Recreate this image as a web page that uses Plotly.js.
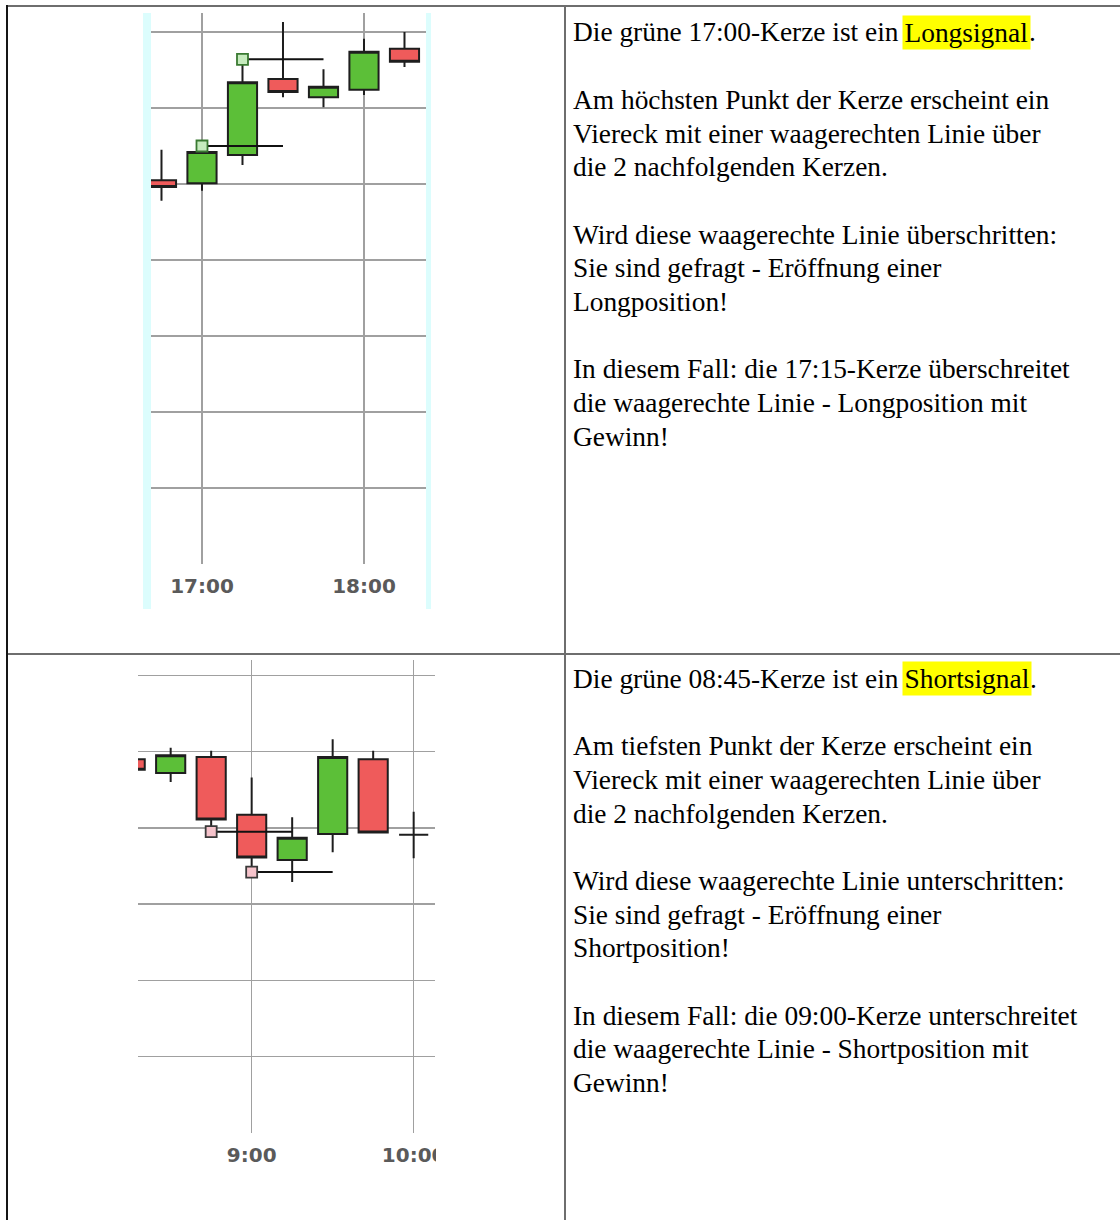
<!DOCTYPE html>
<html>
<head>
<meta charset="utf-8">
<script src="https://cdn.plot.ly/plotly-3.0.1.min.js"></script>
<style>
html,body{margin:0;padding:0;background:#fff;}
#chart{width:1120px;height:1220px;}
</style>
</head>
<body>
<div id="chart"></div>
<script>
// ---------- data ----------
const day = '2024-03-04 ';

// top chart (long signal)
const topTimes = ['16:45','17:00','17:15','17:30','17:45','18:00','18:15'];
const topOpen  = [50.5, 50.1, 53.8, 63.8, 61.4, 62.4, 67.8];
const topHigh  = [54.5, 55.0, 66.4, 71.3, 65.1, 69.1, 70.0];
const topLow   = [47.8, 49.1, 52.5, 61.4, 60.1, 61.7, 65.4];
const topClose = [49.6, 54.2, 63.4, 62.1, 62.8, 67.4, 66.1];
const topSignals = [1, 2];            // candles marked at their high
const topTickVals = ['17:00','18:00'];
const topTickText = ['17:00','18:00'];

// bottom chart (short signal)
const botTimes = ['08:15','08:30','08:45','09:00','09:15','09:30','09:45','10:00'];
const botOpen  = [49.0, 47.2, 49.3, 41.7, 35.8, 39.2, 49.0, 39.1];
const botHigh  = [49.6, 50.5, 50.1, 46.6, 41.4, 51.6, 50.1, 42.1];
const botLow   = [47.0, 46.0, 39.5, 34.2, 32.9, 36.8, 39.3, 36.0];
const botClose = [47.6, 49.5, 41.1, 36.1, 38.7, 49.3, 39.4, 39.1];
const botSignals = [2, 3];            // candles marked at their low
const botTickVals = ['09:00','10:00'];
const botTickText = ['9:00','10:00'];

// text cells
const topLines = [
  'Die grüne 17:00-Kerze ist ein Longsignal.',
  '',
  'Am höchsten Punkt der Kerze erscheint ein',
  'Viereck mit einer waagerechten Linie über',
  'die 2 nachfolgenden Kerzen.',
  '',
  'Wird diese waagerechte Linie überschritten:',
  'Sie sind gefragt - Eröffnung einer',
  'Longposition!',
  '',
  'In diesem Fall: die 17:15-Kerze überschreitet',
  'die waagerechte Linie - Longposition mit',
  'Gewinn!'
];
const topHighlight = 'Longsignal';
const botLines = [
  'Die grüne 08:45-Kerze ist ein Shortsignal.',
  '',
  'Am tiefsten Punkt der Kerze erscheint ein',
  'Viereck mit einer waagerechten Linie über',
  'die 2 nachfolgenden Kerzen.',
  '',
  'Wird diese waagerechte Linie unterschritten:',
  'Sie sind gefragt - Eröffnung einer',
  'Shortposition!',
  '',
  'In diesem Fall: die 09:00-Kerze unterschreitet',
  'die waagerechte Linie - Shortposition mit',
  'Gewinn!'
];
const botHighlight = 'Shortsignal';

// ---------- helpers ----------
const W = 1120, H = 1220;
const px = x => x / W;
const py = y => 1 - y / H;
const dt = t => day + t;

const GREEN = '#5cbf38', RED = '#ef5b5b', EDGE = '#1e1e1e', GRID = '#a0a0a0';

function candles(times, o, h, l, c, xa, ya) {
  return {
    type: 'candlestick', xaxis: xa, yaxis: ya,
    x: times.map(dt), open: o, high: h, low: l, close: c,
    increasing: {fillcolor: GREEN, line: {color: EDGE, width: 2}},
    decreasing: {fillcolor: RED, line: {color: EDGE, width: 2}},
    whiskerwidth: 0, hoverinfo: 'none', showlegend: false
  };
}
function signalLines(times, levels, idx, xa, ya) {
  const x = [], y = [];
  idx.forEach(i => {
    x.push(dt(times[i]), dt(times[i + 2]), null);
    y.push(levels[i], levels[i], null);
  });
  return {type: 'scatter', mode: 'lines', xaxis: xa, yaxis: ya, x, y,
    line: {color: '#111', width: 2}, hoverinfo: 'none', showlegend: false};
}
function squares(times, levels, idx, xa, ya, fill, edge) {
  return {type: 'scatter', mode: 'markers', xaxis: xa, yaxis: ya,
    x: idx.map(i => dt(times[i])), y: idx.map(i => levels[i]),
    marker: {symbol: 'square', size: 11, color: fill, line: {color: edge, width: 1.8}},
    hoverinfo: 'none', showlegend: false};
}

const data = [
  candles(topTimes, topOpen, topHigh, topLow, topClose, 'x', 'y'),
  signalLines(topTimes, topHigh, topSignals, 'x', 'y'),
  squares(topTimes, topHigh, topSignals, 'x', 'y', '#c6ebbe', '#3a7a32'),
  candles(botTimes, botOpen, botHigh, botLow, botClose, 'x2', 'y2'),
  signalLines(botTimes, botLow, botSignals, 'x2', 'y2'),
  squares(botTimes, botLow, botSignals, 'x2', 'y2', '#f6c3cb', '#3a3a3a')
];

const tickFont = {family: 'DejaVu Sans', size: 20, color: '#5a5a5a', weight: 'bold'};
function xAxis(dom, range, tv, tt) {
  return {type: 'date', domain: dom, range: range, tickmode: 'array',
    tickvals: tv.map(dt), ticktext: tt, tickfont: tickFont, ticks: '',
    showgrid: true, gridcolor: GRID, gridwidth: 1.5, zeroline: false, showline: false,
    rangeslider: {visible: false}, fixedrange: true, ticklabelstandoff: 8};
}
function yAxis(dom, range) {
  return {domain: dom, range: range, tick0: 0, dtick: 10, showticklabels: false,
    ticks: '', showgrid: true, gridcolor: GRID, gridwidth: 1.5, zeroline: false,
    showline: false, fixedrange: true};
}

// ---------- text annotations ----------
const TEXT_SIZE = 27.4, LINE = 33.7, TEXT_X = 572;
const ctx = document.createElement('canvas').getContext('2d');
ctx.font = TEXT_SIZE + 'px "Liberation Serif"';
const tw = s => ctx.measureText(s).width;

function ann(text, x, yc, extra) {
  return Object.assign({xref: 'paper', yref: 'paper', x: px(x), y: py(yc),
    xanchor: 'left', yanchor: 'middle', text: text, showarrow: false,
    align: 'left', borderpad: 0,
    font: {family: 'Liberation Serif', size: TEXT_SIZE, color: '#000'}}, extra || {});
}
function cell(lines, hl, base) {
  const out = [];
  lines.forEach((ln, i) => {
    if (!ln) return;
    const yc = base + i * LINE - 0.3375 * TEXT_SIZE;
    if (i === 0 && hl && ln.indexOf(hl) >= 0) {
      const k = ln.indexOf(hl);
      const before = ln.slice(0, k), after = ln.slice(k + hl.length);
      let x = TEXT_X;
      out.push(ann(before, x, yc));
      x += tw(before);
      out.push(ann(hl, x - 2.5, yc, {bgcolor: '#ffff00', borderpad: 1.5}));
      x += tw(hl);
      out.push(ann(after, x, yc));
    } else {
      out.push(ann(ln, TEXT_X, yc));
    }
  });
  return out;
}
const annotations = cell(topLines, topHighlight, 41.7).concat(cell(botLines, botHighlight, 688));

// ---------- table / decoration shapes ----------
function line(x0, y0, x1, y1, color, w) {
  return {type: 'line', xref: 'paper', yref: 'paper', x0: px(x0), y0: py(y0), x1: px(x1), y1: py(y1),
    line: {color: color, width: w}, layer: 'above'};
}
function rect(x0, y0, x1, y1, fill, layer) {
  return {type: 'rect', xref: 'paper', yref: 'paper', x0: px(x0), y0: py(y0), x1: px(x1), y1: py(y1),
    fillcolor: fill, line: {width: 0}, layer: layer};
}
const shapes = [
  rect(143, 13, 151, 609, '#dcfdfd', 'below'),
  rect(426, 13, 431, 609, '#dcfdfd', 'below'),
  rect(436, 1138, 562, 1178, '#ffffff', 'above'),
  line(7, 6, 1120, 6, '#6e6e6e', 2),
  line(7, 654, 1120, 654, '#6e6e6e', 2),
  line(565, 6, 565, 1220, '#6e6e6e', 2),
  line(7, 5, 7, 1220, '#151515', 2)
];

const layout = {
  width: W, height: H, margin: {l: 0, r: 0, t: 0, b: 0},
  paper_bgcolor: '#ffffff', plot_bgcolor: 'rgba(0,0,0,0)',
  showlegend: false, boxgap: 0.28, boxgroupgap: 0, hovermode: false,
  xaxis: xAxis([px(151), px(426)], [dt('16:41:07'), dt('18:22:58')], topTickVals, topTickText),
  yaxis: yAxis([py(564), py(13)], [0, 72.5]),
  xaxis2: xAxis([px(138), px(435)], [dt('08:17:54'), dt('10:07:54')], botTickVals, botTickText),
  yaxis2: yAxis([py(1133), py(660)], [0, 62]),
  shapes: shapes,
  annotations: annotations
};
layout.xaxis2.anchor = 'y2';
layout.yaxis2.anchor = 'x2';

Plotly.newPlot('chart', data, layout, {staticPlot: true, displayModeBar: false});
</script>
</body>
</html>
